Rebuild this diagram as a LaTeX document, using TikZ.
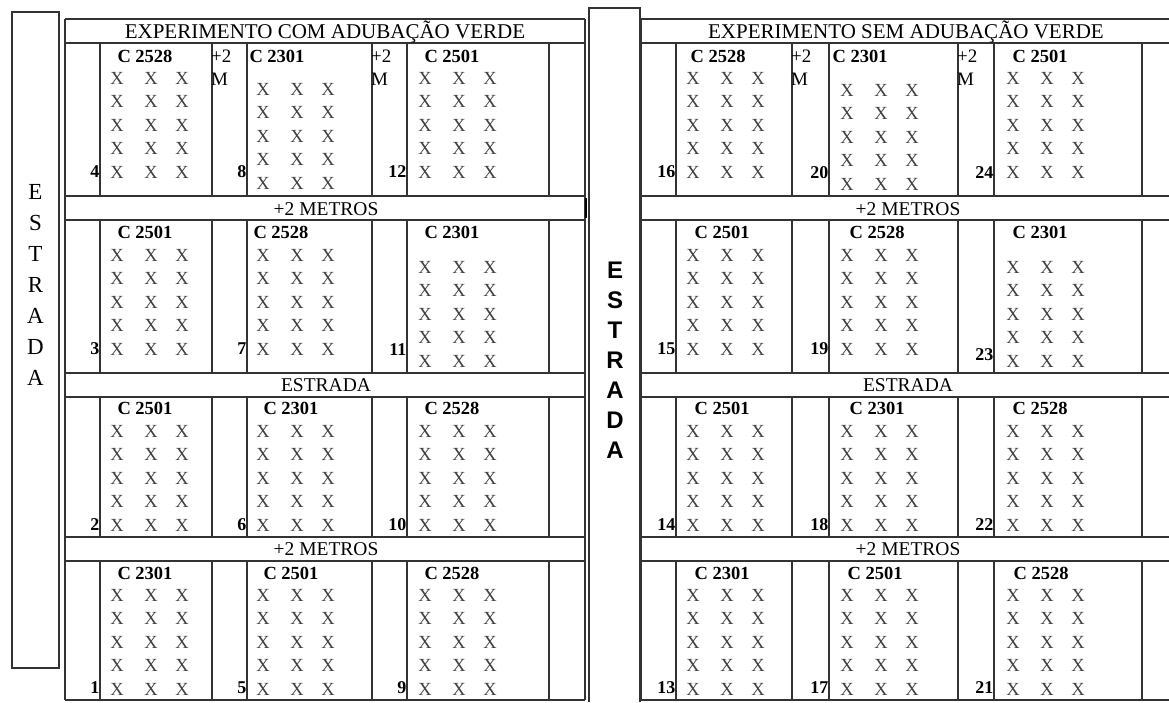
\documentclass[tikz,border=0pt]{standalone}
\usepackage{fontspec}
\setmainfont{Liberation Serif}
\newfontfamily\roadfont{Liberation Sans}
\usepackage{tikz}
\usetikzlibrary{positioning}

\begin{document}
\begin{tikzpicture}[x=1pt, y=-1pt,
  rule/.style={draw=black!80, line width=1.2pt},
  ttl/.style={font=\fontsize{21}{24}\selectfont, inner sep=0pt, anchor=base},
  band/.style={font=\fontsize{19.5}{23}\selectfont, inner sep=0pt},
  cultivar/.style={font=\fontsize{18.5}{22}\selectfont\bfseries, inner sep=0pt},
  xmark/.style={font=\fontsize{18.5}{22}\selectfont, text=black!75, inner sep=0pt},
  plotno/.style={font=\fontsize{18}{22}\selectfont\bfseries, inner sep=0pt, anchor=east},
  gapnote/.style={font=\fontsize{19}{23}\selectfont, inner sep=0pt, anchor=north west, align=left}]
  \useasboundingbox (0,0) rectangle (1169,702);

  % Roads at the sides
  \draw[rule] (12,12) rectangle (59,668);
  \node[font=\fontsize{23}{31}\selectfont, align=center, inner sep=0pt] (roadL) at (35.5,284.5) {E\\S\\T\\R\\A\\D\\A};
  \draw[rule] (589,702) -- (589,8) -- (640,8) -- (640,702);
  \node[font=\roadfont\bfseries\fontsize{24}{30}\selectfont, align=center, inner sep=0pt] (roadM) at (615,360) {E\\S\\T\\R\\A\\D\\A};

  % Table frames
  \foreach \xa/\xb in {65/585, 641/1169}
    \foreach \y in {19,43,196,220,373,397,537,561,700}
      \draw[rule] (\xa,\y) -- (\xb,\y);
  \foreach \x in {65,585,641}
    \draw[rule] (\x,19) -- (\x,700);
  \foreach \ya/\yb in {43/196, 220/373, 397/537, 561/700}
    \foreach \x in {100,212,247,372,407,549,676,792,829,958,994,1142}
      \draw[rule] (\x,\ya) -- (\x,\yb);
  \draw[line width=2.5pt] (586,198) -- (586,218);

  % Titles and bands
  \node[ttl] (ttlL) at (325,38.5) {EXPERIMENTO COM ADUBAÇÃO VERDE};
  \node[ttl] (ttlR) at (906,38.5) {EXPERIMENTO SEM ADUBAÇÃO VERDE};
  \foreach \bx/\side in {326/L, 908/R} {
    \node[band] (gapA\side) at (\bx,209) {+2 METROS};
    \node[band] (road\side) at (\bx,385) {ESTRADA};
    \node[band] (gapB\side) at (\bx,549) {+2 METROS};
  }
  \foreach \gx in {212,372,792,958}
    \node[gapnote] (note\gx) at (\gx-1,49.5) {+2\\M};

  % Plots: number / cultivar / label x,y / first X column / first X row / number x,y
  \foreach \pn/\cv/\lx/\ly/\cx/\ry/\nx/\ny in {
      4/2528/145/56/117/78/100/172, 8/2301/277/56/263/89/247/172, 12/2501/452/56/425/78/407/172,
      3/2501/145/232/117/255/100/349, 7/2528/281/232/263/255/247/349, 11/2301/452/232/425/267/407/350,
      2/2501/145/408/117/431/100/525, 6/2301/291/408/263/431/247/525, 10/2528/452/408/425/431/407/525,
      1/2301/145/573/117/595/100/688, 5/2501/291/573/263/595/247/688, 9/2528/452/573/425/595/407/688,
      16/2528/718/56/693/78/676/172, 20/2301/860/56/847/90/829/173, 24/2501/1040/56/1013/78/994/173,
      15/2501/722/232/693/255/676/349, 19/2528/877/232/847/255/829/349, 23/2301/1040/232/1013/267/994/355,
      14/2501/722/408/693/431/676/525, 18/2301/877/408/847/431/829/525, 22/2528/1040/408/1013/431/994/525,
      13/2301/722/573/693/595/676/688, 17/2501/875/573/847/595/829/688, 21/2528/1041/573/1013/595/994/688} {
    \node[cultivar] (cv\pn) at (\lx,\ly) {C \cv};
    \foreach \row in {0,...,4}
      \foreach \col/\dx in {1/0, 2/34, 3/65}
        \node[xmark] (x\pn-\row-\col) at (\cx+\dx,\ry+\row*23.5) {X};
    \node[plotno] (no\pn) at (\nx-0.5,\ny) {\pn};
  }
\end{tikzpicture}
\end{document}
